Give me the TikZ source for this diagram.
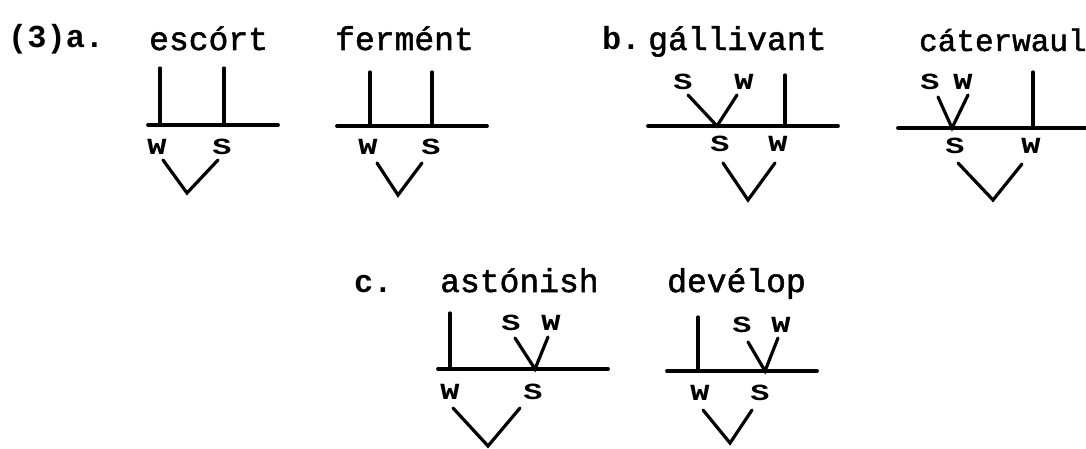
\documentclass[tikz,border=0pt]{standalone}
\usepackage{fontspec}
\usepackage{graphicx}
\newfontfamily\tw[FakeBold=1.6]{Liberation Mono}
\newfontfamily\twb{Liberation Mono Bold}
\newcommand{\lb}[1]{\scalebox{1.45}[1.05]{#1}}
\tikzset{
  word/.style={anchor=base west,inner sep=0pt,font=\tw\fontsize{33}{36}\selectfont},
  tag/.style={anchor=base west,inner sep=0pt,font=\twb\fontsize{32}{36}\selectfont},
  lab/.style={inner sep=0pt,font=\twb\fontsize{22}{24}\selectfont},
  branch/.style={line width=3.2pt,line cap=round,line join=miter},
  base/.style={line width=3.8pt,line cap=round}
}
\begin{document}
\begin{tikzpicture}[x=1pt,y=-1pt]
\useasboundingbox (0,0) rectangle (1086,449);
% ---------- (3)a. escort ----------
\node[tag] (t3a) at (8,48) {(3)a.};
\node[word] (escort) at (149,50) {escórt};
\coordinate (a1l) at (148,125); \coordinate (a1r) at (278,125);
\coordinate (a1w) at (160,125); \coordinate (a1wt) at (160,68);
\coordinate (a1s) at (224,125); \coordinate (a1st) at (224,68);
\node[lab] (a1W) at (157,147) {\lb{W}};
\node[lab] (a1S) at (222,147) {\lb{S}};
\coordinate (a1v1) at (163,160); \coordinate (a1v2) at (187,193); \coordinate (a1v3) at (218,160);
\draw[base] (a1l) -- (a1r);
\draw[branch] (a1wt) -- (a1w);
\draw[branch] (a1st) -- (a1s);
\draw[branch] (a1v1) -- (a1v2) -- (a1v3);
% ---------- ferment ----------
\node[word] (ferment) at (335,50) {fermént};
\coordinate (a2l) at (337,126); \coordinate (a2r) at (487,126);
\coordinate (a2w) at (370,126); \coordinate (a2wt) at (370,72);
\coordinate (a2s) at (432,126); \coordinate (a2st) at (432,72);
\node[lab] (a2W) at (368,147) {\lb{W}};
\node[lab] (a2S) at (431,147) {\lb{S}};
\coordinate (a2v1) at (377,163); \coordinate (a2v2) at (398,195); \coordinate (a2v3) at (422,163);
\draw[base] (a2l) -- (a2r);
\draw[branch] (a2wt) -- (a2w);
\draw[branch] (a2st) -- (a2s);
\draw[branch] (a2v1) -- (a2v2) -- (a2v3);
% ---------- b. gallivant ----------
\node[tag] (tb) at (602,50) {b.};
\node[word] (gallivant) at (648,50) {gállivant};
\coordinate (b1l) at (648,126); \coordinate (b1r) at (838,126);
\node[lab] (b1tS) at (683,82) {\lb{S}};
\node[lab] (b1tW) at (744,82) {\lb{W}};
\coordinate (b1i1) at (688,95); \coordinate (b1i2) at (717,126); \coordinate (b1i3) at (737,95);
\coordinate (b1w) at (785,126); \coordinate (b1wt) at (785,75);
\node[lab] (b1S) at (720,144) {\lb{S}};
\node[lab] (b1W) at (778,144) {\lb{W}};
\coordinate (b1v1) at (723,163); \coordinate (b1v2) at (748,200); \coordinate (b1v3) at (775,163);
\draw[base] (b1l) -- (b1r);
\draw[branch] (b1i1) -- (b1i2) -- (b1i3);
\draw[branch] (b1wt) -- (b1w);
\draw[branch] (b1v1) -- (b1v2) -- (b1v3);
% ---------- caterwaul ----------
\node[word,font=\tw\fontsize{31}{34}\selectfont] (caterwaul) at (919,51) {cáterwaul};
\coordinate (b2l) at (898,128); \coordinate (b2r) at (1090,128);
\node[lab] (b2tS) at (930,82) {\lb{S}};
\node[lab] (b2tW) at (963,82) {\lb{W}};
\coordinate (b2i1) at (938,97); \coordinate (b2i2) at (952,128); \coordinate (b2i3) at (968,95);
\coordinate (b2w) at (1033,128); \coordinate (b2wt) at (1033,72);
\node[lab] (b2S) at (955,146) {\lb{S}};
\node[lab] (b2W) at (1031,146) {\lb{W}};
\coordinate (b2v1) at (958,163); \coordinate (b2v2) at (993,200); \coordinate (b2v3) at (1022,164);
\draw[base] (b2l) -- (b2r);
\draw[branch] (b2i1) -- (b2i2) -- (b2i3);
\draw[branch] (b2wt) -- (b2w);
\draw[branch] (b2v1) -- (b2v2) -- (b2v3);
% ---------- c. astonish ----------
\node[tag] (tc) at (354,292) {c.};
\node[word] (astonish) at (440,292) {astónish};
\coordinate (c1l) at (438,369); \coordinate (c1r) at (608,369);
\coordinate (c1w) at (450,369); \coordinate (c1wt) at (450,313);
\node[lab] (c1tS) at (511,323) {\lb{S}};
\node[lab] (c1tW) at (551,323) {\lb{W}};
\coordinate (c1i1) at (515,338); \coordinate (c1i2) at (535,369); \coordinate (c1i3) at (548,337);
\node[lab] (c1W) at (450,392) {\lb{W}};
\node[lab] (c1S) at (533,392) {\lb{S}};
\coordinate (c1v1) at (453,408); \coordinate (c1v2) at (488,446); \coordinate (c1v3) at (520,408);
\draw[base] (c1l) -- (c1r);
\draw[branch] (c1wt) -- (c1w);
\draw[branch] (c1i1) -- (c1i2) -- (c1i3);
\draw[branch] (c1v1) -- (c1v2) -- (c1v3);
% ---------- develop ----------
\node[word] (develop) at (667,292) {devélop};
\coordinate (c2l) at (667,371); \coordinate (c2r) at (817,371);
\coordinate (c2w) at (698,371); \coordinate (c2wt) at (698,317);
\node[lab] (c2tS) at (742,325) {\lb{S}};
\node[lab] (c2tW) at (781,325) {\lb{W}};
\coordinate (c2i1) at (748,342); \coordinate (c2i2) at (765,371); \coordinate (c2i3) at (778,338);
\node[lab] (c2W) at (700,393) {\lb{W}};
\node[lab] (c2S) at (760,393) {\lb{S}};
\coordinate (c2v1) at (703,410); \coordinate (c2v2) at (730,443); \coordinate (c2v3) at (752,410);
\draw[base] (c2l) -- (c2r);
\draw[branch] (c2wt) -- (c2w);
\draw[branch] (c2i1) -- (c2i2) -- (c2i3);
\draw[branch] (c2v1) -- (c2v2) -- (c2v3);
\end{tikzpicture}
\end{document}
